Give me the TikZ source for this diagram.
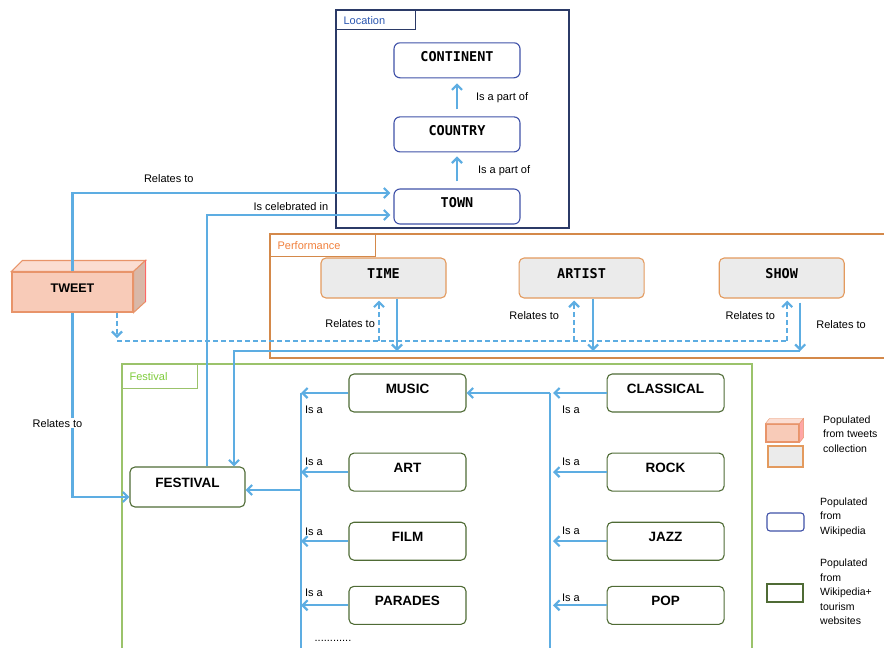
\documentclass[tikz,border=0pt]{standalone}
\usepackage{fontspec}
\setmainfont{Liberation Sans}
\newfontfamily\monob{DejaVu Sans Mono}
\usetikzlibrary{arrows.meta,positioning,calc}

\definecolor{linkblue}{HTML}{5DADE2}
\definecolor{locframe}{HTML}{2B3A67}
\definecolor{loctext}{HTML}{2A56B0}
\definecolor{locedge}{HTML}{3F51A8}
\definecolor{perfframe}{HTML}{D4894A}
\definecolor{perftext}{HTML}{F0803C}
\definecolor{perfedge}{HTML}{E39A5E}
\definecolor{perffill}{HTML}{EBEBEB}
\definecolor{festframe}{HTML}{9BC36B}
\definecolor{festtext}{HTML}{7DCB3A}
\definecolor{festedge}{HTML}{4F6B35}
\definecolor{tweetfill}{HTML}{F8CBB8}
\definecolor{tweettop}{HTML}{FBDDD2}
\definecolor{tweetside}{HTML}{D9B8A8}
\definecolor{tweetedge}{HTML}{E8946A}

\tikzset{lbl/.style={font=\fontsize{11}{13}\selectfont, inner sep=1pt}}
\tikzset{link/.style={draw=linkblue, line width=2.2pt, -{Straight Barb[length=5pt,width=10pt]}}}
\tikzset{dlink/.style={link, dash pattern=on 5pt off 3pt}}

\begin{document}
\begin{tikzpicture}[x=1pt, y=-1pt,
                    locbox/.style={draw=locedge, line width=1.1pt, rounded corners=6pt, minimum width=126pt, minimum height=35pt,
                                   font=\monob\fontsize{13.5}{15}\selectfont\bfseries, text height=10pt, text depth=8pt},
                    perfbox/.style={draw=perfedge, line width=1.1pt, fill=perffill, rounded corners=5pt, minimum width=125pt, minimum height=40pt,
                                    font=\monob\fontsize{13.5}{15}\selectfont\bfseries, text height=10pt, text depth=10pt},
                    festbox/.style={draw=festedge, line width=1.1pt, rounded corners=5pt, minimum width=117pt, minimum height=38pt,
                                    font=\fontsize{13.5}{15}\selectfont\bfseries, text height=10pt, text depth=10pt},
                    framelbl/.style={anchor=north west, inner xsep=7pt, align=left, line width=1.2pt,
                                     font=\fontsize{11}{13}\selectfont},
                    legbox/.style={line width=1.1pt, minimum width=33pt, minimum height=18pt, inner sep=0pt},
                    legtxt/.style={anchor=west, align=left, inner sep=0pt, font=\fontsize{10.5}{14.5}\selectfont}]
    \useasboundingbox (0,0) rectangle (884,648);

    % Location
    \draw[locframe, line width=1.2pt] (336,10) rectangle (569,228);
    \node[framelbl, draw=locframe, text=loctext, text width=65pt, minimum height=19pt] (loclbl) at (336,10) {Location};
    \node[locbox]                      (town)      at (457,206.5) {TOWN};
    \node[locbox, above=36pt of town]    (country)   {COUNTRY};
    \node[locbox, above=38pt of country] (continent) {CONTINENT};

    % Performance
    \draw[perfframe, line width=1.2pt] (270,234) rectangle (890,358);
    \node[framelbl, draw=perfframe, text=perftext, text width=91pt, minimum height=22pt] (perflbl) at (270,234) {Performance};
    \node[perfbox]                     (time)   at (383.5,278) {TIME};
    \node[perfbox, right=72pt of time]   (artist) {ARTIST};
    \node[perfbox, right=74pt of artist] (show)   {SHOW};

    % Festival
    \draw[festframe, line width=1.2pt] (122,364) rectangle (752,652);
    \node[framelbl, draw=festframe, text=festtext, text width=61pt, minimum height=24pt] (festlbl) at (122,364) {Festival};
    \node[festbox, minimum width=115pt, minimum height=40pt] (festival) at (187.5,487) {FESTIVAL};
    \node[festbox]                      (music)     at (407.5,393) {MUSIC};
    \node[festbox, below=40pt of music]   (art)       {ART};
    \node[festbox, below=30pt of art]     (film)      {FILM};
    \node[festbox, below=25pt of film]    (parades)   {PARADES};
    \node[festbox, right=140pt of music]  (classical) {CLASSICAL};
    \node[festbox, right=140pt of art]    (rock)      {ROCK};
    \node[festbox, right=140pt of film]   (jazz)      {JAZZ};
    \node[festbox, right=140pt of parades] (pop)      {POP};
    \node[lbl] (more) at (333,641) {............};

    % Tweet
    \node[draw=tweetedge, line width=1.1pt, fill=tweetfill, minimum width=121pt, minimum height=40pt,
          font=\fontsize{12.5}{14}\selectfont\bfseries, text height=9pt, text depth=9pt] (tweet) at (72.5,292) {TWEET};
    \path[draw=tweetedge, line width=1.1pt, fill=tweettop] (tweet.north west) -- ++(11pt,11pt)
        -- ([shift={(12pt,11pt)}]tweet.north east) -- (tweet.north east) -- cycle;
    \path[draw=tweetedge, line width=1.1pt, fill=tweetside] (tweet.north east) -- ++(12pt,11pt)
        -- ([shift={(12pt,11pt)}]tweet.south east) -- (tweet.south east) -- cycle;
    \draw[red!60, line width=1.1pt] ([shift={(12pt,11pt)}]tweet.north east) -- ([shift={(12pt,11pt)}]tweet.south east);

    % Legend
    \node[legbox, draw=tweetedge, fill=tweetfill] (legtweet) at (782.5,433) {};
    \path[draw=tweetedge, fill=tweettop] (legtweet.north west) -- ++(4pt,5pt)
        -- ([shift={(4pt,5pt)}]legtweet.north east) -- (legtweet.north east) -- cycle;
    \path[draw=tweetedge, fill=red!35] (legtweet.north east) -- ++(4pt,5pt)
        -- ([shift={(4pt,5pt)}]legtweet.south east) -- (legtweet.south east) -- cycle;
    \node[legbox, draw=perfedge, fill=perffill, minimum width=35pt, minimum height=21pt] (legperf) at (785.5,456.5) {};
    \node[legbox, draw=locedge, rounded corners=3pt, minimum width=37pt] (legloc)  at (785.5,522) {};
    \node[legbox, draw=festedge, minimum width=36pt]                    (legfest) at (785,593) {};
    \node[legtxt] (legtxt1) at (823,434) {Populated\\from tweets\\collection};
    \node[legtxt] (legtxt2) at (820,517) {Populated\\from\\Wikipedia};
    \node[legtxt] (legtxt3) at (820,592) {Populated\\from\\Wikipedia+\\tourism\\websites};

    % Paths
    \path[link, shorten <=7pt, shorten >=5pt] (country) -- node[lbl, right=17pt] {Is a part of} (continent);
    \path[link, shorten <=7pt, shorten >=4pt] (town) -- node[lbl, right=19pt] {Is a part of} (country);
    \path[link, shorten >=3pt] (tweet.north) |- node[lbl, above=8pt, pos=0.65] {Relates to} ([yshift=13.5pt]town.west);
    \path[link, shorten >=3pt] ([xshift=19.5pt]festival.north) |- node[lbl, above=2pt, pos=0.725] {Is celebrated in} ([yshift=-8.5pt]town.west);
    \path[link] (tweet.south) |- node[lbl, fill=white, pos=0.3, xshift=-15pt] {Relates to} ([yshift=-10pt]festival.west);

    % dashed links from the tweet
    \coordinate (tbus)    at (117,341);
    \coordinate (dtime)   at ([xshift=-4.5pt]time.south);
    \coordinate (dartist) at ([xshift=-7.5pt]artist.south);
    \coordinate (dshow)   at ([xshift=5.5pt]show.south);
    \path[dlink, shorten >=3pt] ([xshift=44.5pt]tweet.south) -- (tbus);
    \path[dlink, -] (tbus) -- (tbus -| dshow);
    \path[dlink, shorten >=2pt] (tbus -| dtime) -- node[lbl, left=2pt, pos=0.4] {Relates to} (dtime);
    \path[dlink, shorten >=2pt] (tbus -| dartist) -- node[lbl, left=13pt, pos=0.6] {Relates to} (dartist);
    \path[dlink, shorten >=2pt] (tbus -| dshow) -- node[lbl, left=10pt, pos=0.6] {Relates to} (dshow);

    % performance to festival
    \coordinate (pbus)    at (234,351);
    \coordinate (ptime)   at ([xshift=13.5pt]time.south);
    \coordinate (partist) at ([xshift=11.5pt]artist.south);
    \coordinate (pshow)   at ([xshift=18.5pt]show.south);
    \path[link] (ptime) -- (ptime |- pbus);
    \path[link] (partist) -- (partist |- pbus);
    \path[link, shorten <=4pt] (pshow) -- node[lbl, right=14pt] {Relates to} (pshow |- pbus);
    \path[link] (pshow |- pbus) -| (festival.north -| pbus);

    % festival hierarchy
    \coordinate (lbus)    at (301,393);
    \coordinate (lbusend) at (301,650);
    \coordinate (rbus)    at (550,393);
    \coordinate (rbusend) at (550,650);
    \coordinate (festin)  at ([yshift=-3pt]festival.east);
    \path[link, -] (lbus) -- (lbusend);
    \path[link, -] (rbus) -- (rbusend);
    \path[link] (festin -| lbus) -- (festin);
    \path[link] (rbus) -- (music.east);
    \path[link] (music.west)   -- node[lbl, pos=1, anchor=north west, xshift=2pt, yshift=-11pt] {Is a} (music.west -| lbus);
    \path[link] (art.west)     -- node[lbl, pos=1, anchor=south west, xshift=2pt, yshift=4pt] {Is a} (art.west -| lbus);
    \path[link] (film.west)    -- node[lbl, pos=1, anchor=south west, xshift=2pt, yshift=3pt] {Is a} (film.west -| lbus);
    \path[link] (parades.west) -- node[lbl, pos=1, anchor=south west, xshift=2pt, yshift=7pt] {Is a} (parades.west -| lbus);
    \path[link, shorten >=3pt] (classical.west) -- node[lbl, pos=1, anchor=north west, xshift=10pt, yshift=-11pt] {Is a} (classical.west -| rbus);
    \path[link, shorten >=3pt] (rock.west) -- node[lbl, pos=1, anchor=south west, xshift=10pt, yshift=4pt] {Is a} (rock.west -| rbus);
    \path[link, shorten >=3pt] (jazz.west) -- node[lbl, pos=1, anchor=south west, xshift=10pt, yshift=4pt] {Is a} (jazz.west -| rbus);
    \path[link, shorten >=3pt] (pop.west)  -- node[lbl, pos=1, anchor=south west, xshift=10pt, yshift=2pt] {Is a} (pop.west -| rbus);
\end{tikzpicture}
\end{document}
